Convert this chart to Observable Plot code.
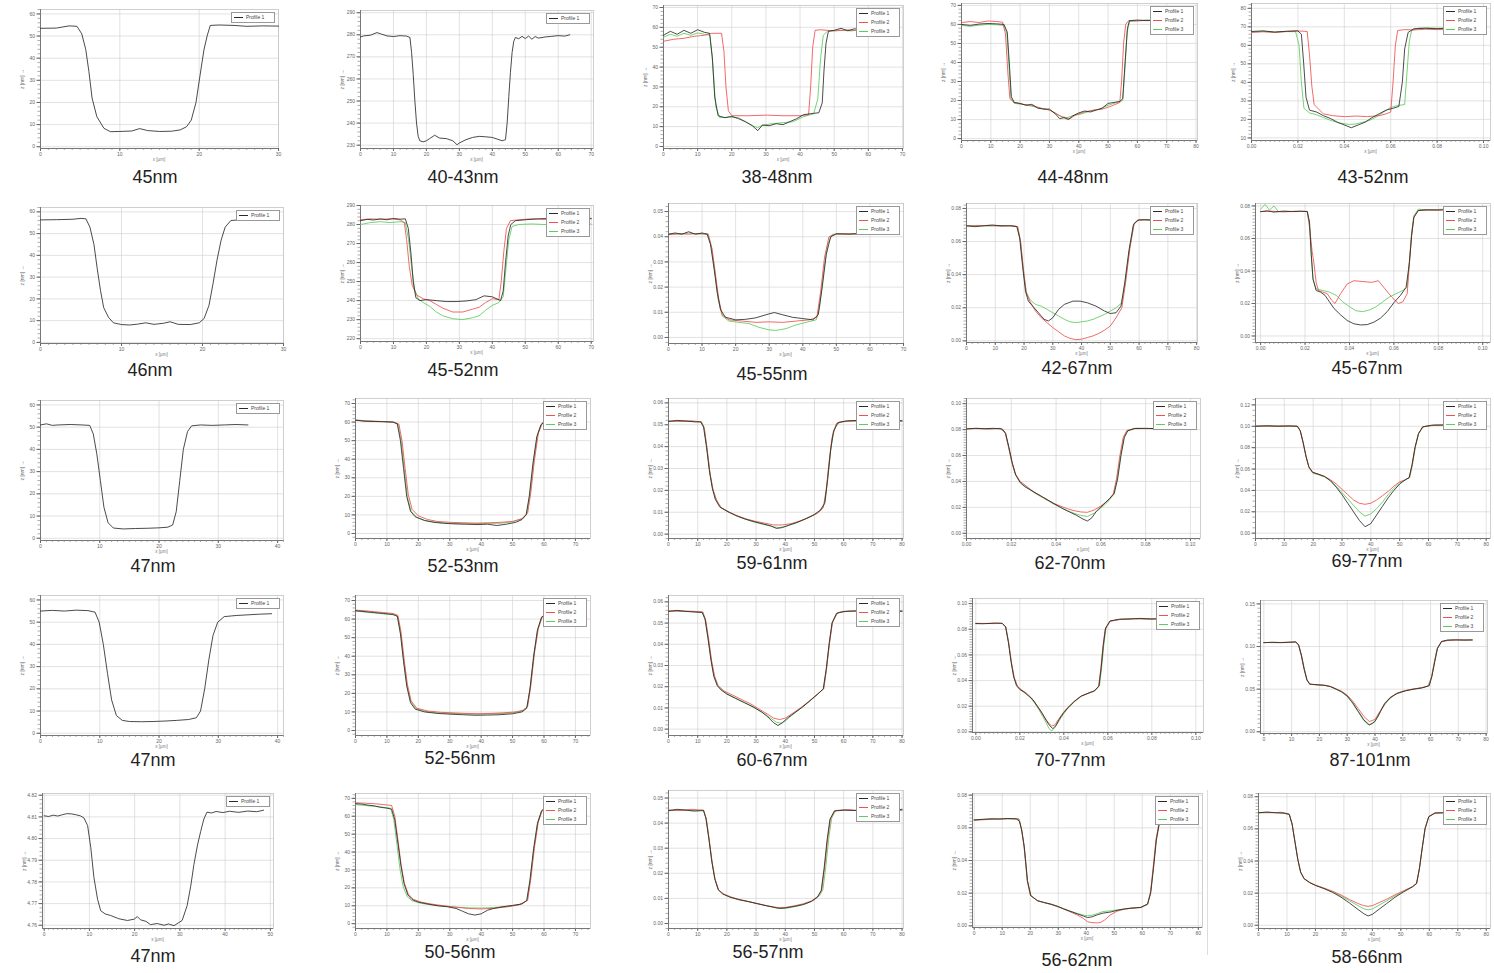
<!DOCTYPE html>
<html><head><meta charset="utf-8">
<script src="https://cdn.jsdelivr.net/npm/d3@7"></script>
<script src="https://cdn.jsdelivr.net/npm/@observablehq/plot@0.6"></script>
<style>
body{margin:0;background:#fff;width:1494px;height:973px;position:relative;overflow:hidden;font-family:"Liberation Sans",Arial,sans-serif}
.panel{position:absolute}
.cap{position:absolute;font-size:18px;line-height:18px;color:#222;transform:translate(-50%,-50%);white-space:nowrap}
.leg{position:absolute;background:#fff;border:1px solid #999;font-size:5px;line-height:9px;color:#444;padding:0 3px 0 2px;box-sizing:border-box}
.leg div{display:flex;align-items:center;height:9px}
.leg span.sw{display:inline-block;width:9px;height:0;border-top:1px solid #333;margin-right:3px}
.art{position:absolute;background:#ddd}
</style></head><body><div id="root"></div>
<script>
// ---------- captions ----------
const captions = ["45nm","40-43nm","38-48nm","44-48nm","43-52nm",
 "46nm","45-52nm","45-55nm","42-67nm","45-67nm",
 "47nm","52-53nm","59-61nm","62-70nm","69-77nm",
 "47nm","52-56nm","60-67nm","70-77nm","87-101nm",
 "47nm","50-56nm","56-57nm","56-62nm","58-66nm"];
const profileNames = ["Profile 1","Profile 2","Profile 3"];

// ---------- tick labels ----------
const xt30 = [0,10,20,30];
const xt40 = [0,10,20,30,40];
const xt50 = [0,10,20,30,40,50];
const xt70 = [0,10,20,30,40,50,60,70];
const xt80 = [0,10,20,30,40,50,60,70,80];
const xtFrac = [0,0.02,0.04,0.06,0.08,0.10];
const yt60 = [0,10,20,30,40,50,60];
const yt70 = [0,10,20,30,40,50,60,70];
const ytP2 = [230,240,250,260,270,280,290];
const ytP5 = [10,20,30,40,50,60,70,80];
const ytP7 = [220,230,240,250,260,270,280,290];
const yt005 = [0,0.01,0.02,0.03,0.04,0.05];
const yt006 = [0,0.01,0.02,0.03,0.04,0.05,0.06];
const yt008 = [0,0.02,0.04,0.06,0.08];
const yt010 = [0,0.02,0.04,0.06,0.08,0.10];
const yt012 = [0,0.02,0.04,0.06,0.08,0.10,0.12];
const yt015 = [0,0.05,0.10,0.15];
const ytP21 = [4.76,4.77,4.78,4.79,4.80,4.81,4.82];

// ---------- profile data [x, z] ----------
const s01a = [[0,53.5],[2,53.6],[3.6,54.6],[4.6,54.4],[5.2,51],[5.7,44],[6.1,34],[6.5,22],[7.1,13.6],[8,8.3],[8.8,6.8],[10,6.9],[11.5,7.1],[12.5,8.2],[13.5,7.3],[15,6.9],[16.5,7],[17.6,7.6],[18.4,9],[19,12],[19.6,20],[20.1,32],[20.6,43.7],[21,50],[21.4,54.8],[22.5,55],[24.4,54.8],[26,54.4],[28,54.6],[30,54.5]];
const s02a = [[0,279],[1,279.5],[3,279.8],[5,281],[6,280.5],[8,279.5],[10,279.2],[12,279.6],[14,279.4],[15,278.8],[15.5,272],[16,262],[16.5,250],[17,240],[17.5,234],[18,232],[19,231.5],[20,232],[21,233],[22.5,234.5],[24,233.2],[26,233],[28,232],[29.3,230.2],[30,231],[32,232.5],[34,233.5],[36,234],[38,233.8],[40,233.5],[42,232.5],[43,232],[44,232.5],[44.5,240],[45,252],[45.5,263],[46,272],[46.5,277],[47,278.8],[48,278.2],[49,279.3],[50,278.3],[51,279.4],[52,278],[53,279.2],[54,278.5],[56,279],[58,279.3],[60,279.6],[62,279.4],[63.5,280]];
const s03a = [[0,56],[2,58],[4,56.5],[6,58.5],[8,57],[10,58.8],[12,57.5],[13.5,57],[14.3,45],[15,25],[16,15.5],[18,14.5],[20,15.2],[22,14],[24,12.5],[26,10.5],[27.6,8],[29,10.8],[31,10.5],[33,11.5],[35,11],[37,12.5],[39,14],[41,16],[43,16.5],[45.5,17],[46.5,22],[47,38],[47.6,52],[48.3,58],[50,58.5],[52,59.5],[54,58.3],[56,59.3],[58,58.5],[60,59]];
const s03b = [[0,53],[3,54],[6,54.5],[9,55.5],[12,56],[14,57],[17,57],[17.7,48],[18.3,30],[19,18],[20,15.5],[25,15.5],[30,15.8],[35,15.5],[40,15.5],[42.5,16],[43.1,30],[43.7,50],[44.4,58.5],[46,58.8],[50,58.2],[54,58.7],[58,58.3],[62,58.8]];
const s03c = [[0,55],[2,56.5],[4,55.5],[6,57],[8,56],[10,57.2],[12,56.5],[13.6,56],[14.4,42],[15.3,20],[16.5,14.5],[19,14.8],[22,14.5],[24,12.5],[26,10.5],[27.6,9.5],[29,10.8],[32,11.5],[35,12],[38,12.5],[41,15],[44,16.5],[45.2,24],[46,44],[46.8,56],[48,58],[51,58.6],[55,58.2],[58,58.8],[61,58.5]];
const s04a = [[0,60],[3,59.5],[6,60.2],[9,60.5],[12,60.3],[14.5,60],[15.6,56],[16.3,40],[17,22],[18,19],[20,18.5],[22,17.5],[24,18],[26,16],[28,15.5],[30,15.5],[32,13],[33.5,10.5],[35,11],[36.5,10],[38,12],[40,13.5],[42,14.5],[44,14],[46,15],[48,16],[50,18.5],[52,19],[54,19.5],[55,21],[55.8,40],[56.6,58],[57.3,62],[60,62.3],[63,62],[66,62.2]];
const s04b = [[0,61],[3,61.5],[6,61],[9,61.8],[12,61.5],[14,61.2],[15,55],[15.8,35],[16.5,21],[18,19],[21,18],[24,17.5],[27,16],[30,15],[33,12.5],[35,11],[37,10.5],[39,12.5],[42,14],[45,15],[48,15.5],[51,17],[54,19],[54.6,30],[55.3,50],[56,60],[57,62],[60,61.8],[63,62.2],[66,62]];
const s04c = [[0,59.5],[3,59],[6,59.6],[9,60],[12,59.8],[14.5,59.5],[15.5,55],[16.2,38],[16.9,21],[18,18.5],[21,18],[24,17],[27,16],[30,15],[32,13.5],[34,11.5],[36,11],[38,12],[41,13],[44,14.5],[47,15.5],[50,17.5],[53,19],[55,20],[55.8,38],[56.5,56],[57.3,61.5],[60,62],[63,62.3],[66,62]];
const s05a = [[0,67.5],[0.005,67.8],[0.01,67.2],[0.015,67.6],[0.02,67.8],[0.0215,66],[0.0225,50],[0.0235,32],[0.025,25],[0.028,24],[0.031,22],[0.034,20.5],[0.037,18.5],[0.04,17],[0.043,15.5],[0.046,17],[0.049,18.5],[0.052,21],[0.055,23],[0.058,25],[0.061,26],[0.0635,27],[0.065,40],[0.066,58],[0.0675,67],[0.07,69],[0.075,69.2],[0.08,69],[0.085,69.3],[0.1,69.2]];
const s05b = [[0,67],[0.005,67.3],[0.01,67],[0.015,67.5],[0.02,67.8],[0.024,67.5],[0.025,55],[0.026,38],[0.027,28],[0.029,25.5],[0.031,23],[0.035,22],[0.04,21.5],[0.045,21.8],[0.05,21.5],[0.055,22],[0.058,23],[0.06,24],[0.061,40],[0.062,60],[0.063,68],[0.066,68.5],[0.07,68.3],[0.075,68.7],[0.08,68.5],[0.1,68.6]];
const s05c = [[0,67.2],[0.005,67.6],[0.01,67],[0.015,67.4],[0.019,67.4],[0.0205,60],[0.0215,40],[0.0226,26],[0.025,23.5],[0.028,22.5],[0.031,21],[0.034,19.5],[0.038,18],[0.042,17.3],[0.045,17.5],[0.048,18.5],[0.051,19.5],[0.054,21.5],[0.057,24],[0.06,26.5],[0.063,27.5],[0.066,28],[0.067,45],[0.068,62],[0.069,68],[0.072,69.3],[0.076,69.5],[0.08,69.2],[0.085,69.4],[0.1,69.3]];
const s06a = [[0,56.3],[2,56.4],[4,56.6],[5,57],[5.6,56.8],[6.1,53],[6.6,45],[7,34],[7.4,24],[7.8,16],[8.4,11.5],[9,9],[10,8.2],[11,8],[12,8.4],[13,9],[14,8.3],[15.2,8.8],[16,9.5],[17,8.3],[18.5,8.2],[19.6,9],[20.2,11],[20.8,17],[21.3,27],[21.8,38],[22.3,47],[22.8,53],[23.5,56],[25,56.5],[27,56.4],[29,56.5]];
const s07a = [[0,282],[2,282.7],[4,282.4],[6,283],[8,282.5],[10,283.2],[12,282.8],[13.6,283],[14.5,278],[15.3,265],[16,250],[16.8,241.5],[18,240],[20,240.5],[23,240],[26,239.5],[29,239.5],[32,239.8],[35,240.5],[37.5,242.5],[40,242],[42.5,240],[43.3,245],[44,260],[44.8,274],[45.6,280],[47,282],[50,282.5],[54,283],[58,283.2],[62,283],[66,283.4],[70,283.2]];
const s07b = [[0,282.5],[3,283],[6,282.7],[9,283],[12,282.5],[13.3,281],[14,272],[14.8,258],[15.7,248],[17,243],[19,241],[21,240],[23,238],[25,236],[28,234],[31,234],[34,235.5],[36,236.5],[38,239],[40,241],[42,240.5],[42.7,250],[43.5,266],[44.3,278],[45.5,282],[48,282.5],[52,283],[56,282.7],[60,283.2],[66,283],[70,283]];
const s07c = [[0,280],[3,281],[6,281.5],[9,281],[12,281.5],[13.6,281],[14.6,272],[15.5,258],[16.4,246],[17.5,241],[19,239],[21,237],[23,234],[25,232],[28,230.5],[31,230],[34,231],[36,232],[38,235],[40,237.5],[42,239],[43.3,242],[44.2,258],[45,272],[46,279],[48,280],[52,280.3],[56,280],[60,280.2],[66,280],[70,280.2]];
const s08a = [[0,0.041],[2,0.0415],[4,0.041],[6,0.042],[8,0.041],[10,0.0415],[11.5,0.041],[12.5,0.037],[13.5,0.028],[14.5,0.018],[15.5,0.011],[17,0.008],[20,0.007],[23,0.0072],[26,0.0078],[29,0.009],[31.5,0.0099],[34,0.009],[37,0.008],[40,0.0075],[43,0.007],[44.6,0.009],[45.8,0.02],[47,0.033],[48.3,0.04],[50,0.0412],[54,0.041],[58,0.0415],[62,0.041],[66,0.0412]];
const s08b = [[0,0.0408],[3,0.0412],[6,0.041],[9,0.0413],[11.8,0.041],[13,0.035],[14,0.025],[15,0.015],[16,0.009],[18,0.007],[22,0.0065],[26,0.006],[30,0.0062],[34,0.006],[38,0.0065],[42,0.007],[44.2,0.008],[45.3,0.018],[46.5,0.032],[47.8,0.04],[50,0.041],[54,0.0412],[58,0.041],[62,0.0412],[66,0.041]];
const s08c = [[0,0.0412],[3,0.041],[6,0.0415],[9,0.041],[11.8,0.0412],[12.8,0.036],[13.8,0.026],[14.8,0.015],[16,0.0085],[18,0.0065],[21,0.006],[24,0.0055],[27,0.004],[30,0.003],[32,0.0028],[35,0.0035],[38,0.005],[41,0.006],[44,0.007],[45,0.012],[46.2,0.026],[47.4,0.037],[48.8,0.041],[52,0.0412],[56,0.041],[60,0.0412],[66,0.041]];
const s09a = [[0,0.0695],[3,0.069],[6,0.0695],[9,0.07],[12,0.0695],[15,0.0695],[17.5,0.069],[18.5,0.062],[19.5,0.045],[20.5,0.03],[21.5,0.024],[23,0.021],[25,0.017],[27,0.013],[28.5,0.012],[30,0.014],[32,0.019],[34,0.022],[37,0.024],[39.5,0.024],[42,0.023],[45,0.021],[48,0.018],[50,0.0165],[52,0.017],[53.7,0.021],[55,0.035],[56.5,0.055],[58,0.07],[59.5,0.073],[62,0.0732],[64,0.073]];
const s09b = [[0,0.0695],[4,0.0695],[8,0.0698],[12,0.0693],[16,0.0697],[17.8,0.069],[18.8,0.06],[19.8,0.043],[20.8,0.029],[22,0.024],[24,0.018],[26,0.014],[28,0.011],[30,0.008],[32,0.0055],[34,0.003],[36,0.0015],[38,0.0007],[40,0.001],[42,0.002],[44,0.003],[46,0.0045],[48,0.0065],[50,0.009],[52,0.014],[54,0.02],[55.3,0.035],[56.8,0.056],[58.3,0.071],[60,0.073],[62,0.0732],[64,0.073]];
const s09c = [[0,0.0695],[4,0.0698],[8,0.0693],[12,0.0697],[16,0.0695],[17.7,0.069],[18.7,0.061],[19.7,0.044],[20.7,0.03],[22,0.025],[24,0.022],[26,0.021],[28,0.019],[30,0.017],[32,0.015],[34,0.013],[36,0.0115],[38,0.011],[40,0.0115],[42,0.012],[44,0.013],[46,0.0145],[48,0.016],[50,0.018],[52,0.02],[54,0.023],[55.2,0.036],[56.7,0.056],[58.2,0.071],[60,0.0732],[62,0.073],[64,0.0732]];
const s10a = [[0,0.0765],[0.003,0.077],[0.006,0.0762],[0.01,0.0768],[0.014,0.0765],[0.018,0.0768],[0.021,0.0765],[0.022,0.07],[0.0228,0.05],[0.0236,0.035],[0.025,0.028],[0.027,0.027],[0.029,0.025],[0.031,0.021],[0.033,0.017],[0.036,0.013],[0.039,0.0095],[0.042,0.0075],[0.045,0.0068],[0.048,0.007],[0.051,0.0085],[0.054,0.011],[0.057,0.015],[0.06,0.0205],[0.063,0.025],[0.0655,0.03],[0.067,0.045],[0.068,0.062],[0.069,0.073],[0.071,0.0772],[0.075,0.0776],[0.08,0.0774],[0.085,0.0778],[0.09,0.0776],[0.1,0.0777]];
const s10b = [[0,0.0765],[0.005,0.0768],[0.01,0.0763],[0.015,0.0767],[0.021,0.0766],[0.0222,0.065],[0.0232,0.052],[0.024,0.045],[0.025,0.033],[0.026,0.028],[0.028,0.027],[0.03,0.026],[0.032,0.022],[0.0335,0.02],[0.036,0.026],[0.039,0.032],[0.042,0.034],[0.046,0.0335],[0.05,0.033],[0.053,0.034],[0.056,0.029],[0.059,0.024],[0.062,0.02],[0.064,0.021],[0.066,0.026],[0.067,0.045],[0.068,0.062],[0.069,0.073],[0.071,0.0772],[0.076,0.0775],[0.082,0.0777],[0.088,0.0775],[0.1,0.0777]];
const s10c = [[0,0.078],[0.002,0.081],[0.004,0.0775],[0.006,0.08],[0.008,0.0765],[0.012,0.0768],[0.016,0.0765],[0.021,0.0767],[0.022,0.07],[0.0228,0.05],[0.0236,0.035],[0.025,0.029],[0.028,0.028],[0.031,0.027],[0.034,0.025],[0.037,0.021],[0.04,0.018],[0.043,0.0155],[0.046,0.015],[0.049,0.016],[0.052,0.018],[0.055,0.021],[0.058,0.024],[0.061,0.026],[0.064,0.028],[0.066,0.03],[0.067,0.047],[0.068,0.064],[0.069,0.074],[0.071,0.078],[0.076,0.0775],[0.082,0.078],[0.088,0.0777],[0.1,0.0778]];
const s11a = [[0,51],[1,51.5],[2,50.8],[3,51],[5,51.2],[7,51],[8.3,50.8],[8.9,47],[9.5,38],[10.1,26],[10.7,14],[11.4,7],[12.3,4.6],[14,4.2],[16,4.4],[18,4.5],[20,4.7],[21.5,5],[22.3,6],[22.9,12],[23.5,26],[24.1,40],[24.8,48],[25.5,50.6],[27,51],[29,50.8],[31,51],[33,51.2],[35,51]];
const s12a = [[0,61],[3,60.5],[6,60.3],[9,60.2],[12,60],[13.3,59],[14.3,50],[15.3,35],[16.3,20],[17.5,12],[19,9],[22,7],[25,6],[28,5.5],[31,5.2],[35,5],[39,4.8],[42,5],[45,4.3],[48,5],[51,6],[53,7.5],[54.3,10],[55.3,20],[56.5,38],[57.7,52],[59,58.5],[60.5,60.8],[63,61.5],[66,61.8],[69,62],[72,61.8]];
const s12b = [[0,61],[3,60.5],[6,60.5],[9,60.2],[12,60],[13.8,59],[14.8,50],[15.8,35],[16.8,21],[18,13],[20,9.5],[23,7.5],[26,6.5],[30,6],[34,5.8],[38,5.6],[42,5.7],[46,6],[50,6.5],[53,8],[54.8,11],[55.8,22],[57,40],[58.2,54],[59.5,59.5],[61,61],[64,61.5],[68,61.8],[72,61.7]];
const s12c = [[0,61.2],[3,60.7],[6,60.4],[9,60.3],[12,60],[13.5,59],[14.5,50],[15.5,35],[16.5,20],[17.7,12],[19.5,8.7],[22,7],[26,6],[30,5.5],[34,5.2],[38,5.3],[42,5.5],[46,5.5],[50,6.3],[53,7.8],[54.5,10.5],[55.5,21],[56.7,39],[57.9,53],[59.2,59],[60.8,61],[64,61.6],[68,61.8],[72,61.9]];
const s13a = [[0,0.0515],[3,0.052],[6,0.0517],[9,0.0513],[11,0.0513],[12,0.049],[13,0.04],[14,0.029],[15,0.021],[16,0.016],[17.5,0.0125],[20,0.0105],[23,0.0085],[26,0.007],[29,0.0058],[32,0.0048],[35,0.0038],[37,0.0026],[39,0.003],[41,0.004],[44,0.0053],[47,0.007],[50,0.009],[52,0.011],[53.5,0.014],[54.5,0.025],[55.5,0.038],[56.5,0.047],[58,0.051],[61,0.0518],[65,0.052],[70,0.0517],[75,0.052],[80,0.0518]];
const s13b = [[0,0.0517],[4,0.0515],[8,0.0518],[11.3,0.0513],[12.3,0.048],[13.3,0.038],[14.3,0.027],[15.3,0.02],[16.5,0.0155],[18,0.012],[21,0.0098],[24,0.0082],[27,0.0068],[30,0.0058],[33,0.005],[36,0.0042],[39,0.0042],[42,0.0048],[45,0.006],[48,0.0075],[51,0.0095],[53,0.012],[54,0.02],[55,0.033],[56,0.044],[57.5,0.0505],[60,0.0515],[65,0.0518],[70,0.0515],[75,0.0518],[80,0.0516]];
const s13c = [[0,0.0516],[4,0.0518],[8,0.0515],[11.2,0.0514],[12.2,0.049],[13.2,0.039],[14.2,0.028],[15.2,0.0205],[16.3,0.0158],[18,0.0122],[21,0.01],[24,0.008],[27,0.0065],[30,0.0053],[33,0.0043],[36,0.0033],[38,0.003],[40,0.0035],[43,0.0048],[46,0.0065],[49,0.0083],[52,0.0105],[53.7,0.015],[54.7,0.027],[55.7,0.04],[56.8,0.048],[58.5,0.0512],[62,0.0516],[67,0.0518],[72,0.0516],[80,0.0518]];
const s14a = [[0,0.0805],[0.004,0.081],[0.008,0.0807],[0.012,0.081],[0.016,0.0805],[0.0175,0.077],[0.019,0.066],[0.0205,0.054],[0.022,0.045],[0.024,0.039],[0.026,0.036],[0.028,0.034],[0.031,0.031],[0.034,0.028],[0.037,0.025],[0.04,0.022],[0.043,0.019],[0.046,0.0165],[0.049,0.014],[0.052,0.011],[0.054,0.0095],[0.056,0.012],[0.058,0.017],[0.061,0.022],[0.064,0.027],[0.066,0.031],[0.0675,0.042],[0.069,0.06],[0.0705,0.074],[0.072,0.079],[0.075,0.0808],[0.08,0.081],[0.085,0.0807],[0.09,0.081],[0.1,0.0808]];
const s14b = [[0,0.0807],[0.005,0.0808],[0.01,0.0805],[0.015,0.081],[0.0172,0.078],[0.0187,0.067],[0.0202,0.055],[0.0217,0.046],[0.024,0.04],[0.027,0.036],[0.03,0.032],[0.033,0.029],[0.036,0.026],[0.039,0.023],[0.042,0.021],[0.045,0.019],[0.048,0.0175],[0.051,0.0165],[0.054,0.0162],[0.057,0.018],[0.06,0.021],[0.063,0.025],[0.0655,0.03],[0.067,0.042],[0.0685,0.06],[0.07,0.074],[0.0715,0.079],[0.075,0.081],[0.08,0.0808],[0.085,0.081],[0.1,0.0807]];
const s14c = [[0,0.0806],[0.005,0.081],[0.01,0.0806],[0.015,0.0808],[0.0174,0.0775],[0.0189,0.066],[0.0204,0.054],[0.022,0.045],[0.024,0.0395],[0.027,0.0355],[0.03,0.0315],[0.033,0.0285],[0.036,0.0255],[0.039,0.0225],[0.042,0.02],[0.045,0.0175],[0.048,0.0155],[0.051,0.0138],[0.054,0.013],[0.057,0.0155],[0.06,0.0195],[0.063,0.024],[0.0658,0.03],[0.0672,0.042],[0.0688,0.06],[0.0703,0.074],[0.0718,0.0795],[0.076,0.081],[0.082,0.0808],[0.09,0.081],[0.1,0.0808]];
const s15a = [[0,0.1],[4,0.1005],[8,0.1],[12,0.1003],[14.5,0.1],[15.5,0.096],[16.5,0.085],[17.5,0.072],[18.5,0.062],[19.8,0.057],[22,0.055],[24,0.053],[26,0.049],[28,0.043],[30,0.036],[32,0.028],[34,0.02],[36,0.012],[38,0.006],[40,0.009],[42,0.017],[44,0.025],[46,0.033],[48,0.04],[50,0.046],[52,0.05],[53.3,0.052],[54.3,0.064],[55.3,0.08],[56.5,0.093],[58,0.0995],[61,0.101],[65,0.1012],[70,0.101],[75,0.1012],[78,0.101]];
const s15b = [[0,0.1003],[5,0.1],[10,0.1005],[14.5,0.1],[15.5,0.096],[16.5,0.085],[17.5,0.072],[18.5,0.062],[19.8,0.057],[22,0.055],[24,0.053],[26,0.05],[28,0.046],[30,0.041],[32,0.036],[34,0.031],[36,0.028],[38,0.027],[40,0.028],[42,0.031],[44,0.035],[46,0.039],[48,0.044],[50,0.048],[52,0.05],[53.3,0.052],[54.3,0.064],[55.3,0.08],[56.5,0.093],[58,0.0995],[62,0.101],[68,0.1012],[74,0.101],[78,0.1012]];
const s15c = [[0,0.1],[5,0.1004],[10,0.1],[14.5,0.1002],[15.6,0.095],[16.6,0.084],[17.6,0.071],[18.6,0.061],[19.9,0.056],[22,0.0545],[24,0.0525],[26,0.049],[28,0.044],[30,0.038],[32,0.032],[34,0.026],[36,0.02],[38,0.016],[40,0.018],[42,0.023],[44,0.029],[46,0.036],[48,0.042],[50,0.047],[52,0.05],[53.5,0.052],[54.5,0.065],[55.5,0.081],[56.7,0.094],[58.2,0.0995],[62,0.1012],[68,0.101],[74,0.1012],[78,0.101]];
const s16a = [[0,55],[2,55.3],[4,55],[6,55.4],[8,55.2],[9.2,54.5],[9.9,50],[10.6,40],[11.3,27],[12,15],[12.8,8],[13.8,5.8],[15,5.3],[17,5.2],[19,5.3],[21,5.5],[23,5.8],[25,6.2],[26.3,7],[27,10],[27.7,20],[28.4,33],[29.1,44],[29.9,50],[31,52.5],[33,53],[35,53.3],[37,53.6],[39,53.8]];
const s17a = [[0,64.5],[3,64],[6,63.5],[9,63],[12,62.5],[13.3,61.5],[14.3,52],[15.3,37],[16.3,24],[17.5,15],[19,11.5],[22,10],[26,9.2],[30,8.8],[34,8.5],[38,8.2],[42,8.3],[46,8.5],[50,9],[53,10],[54.5,12],[55.5,22],[56.7,40],[57.9,54],[59.2,61],[61,63],[64,63.5],[68,63.8],[72,64]];
const s17b = [[0,64.8],[3,64.5],[6,64],[9,63.5],[12,63],[13.5,62],[14.5,53],[15.5,38],[16.5,25],[17.7,16],[19.5,12],[23,10.5],[27,9.8],[31,9.5],[35,9.2],[39,9],[43,9.2],[47,9.5],[51,10],[53.5,11],[54.8,13],[55.8,24],[57,42],[58.2,55],[59.5,61.5],[61.5,63.2],[65,63.7],[69,64],[72,64.2]];
const s17c = [[0,64.3],[3,63.8],[6,63.3],[9,62.8],[12,62.3],[13.4,61.5],[14.4,52],[15.4,37],[16.4,24],[17.6,15.5],[19.2,11.8],[22,10.3],[26,9.5],[30,9.2],[34,9],[38,8.8],[42,8.9],[46,9.1],[50,9.5],[53,10.5],[54.6,12.5],[55.6,23],[56.8,41],[58,54.5],[59.3,61],[61.2,63],[65,63.5],[69,63.9],[72,64]];
const s18a = [[0,0.0555],[3,0.056],[6,0.0555],[9,0.0552],[11.5,0.055],[12.5,0.052],[13.5,0.043],[14.5,0.033],[15.5,0.025],[16.7,0.0205],[18,0.0185],[20,0.0165],[23,0.0145],[26,0.0125],[29,0.0105],[32,0.008],[34,0.0058],[36,0.003],[37.5,0.0017],[39,0.003],[41,0.0055],[43,0.0075],[46,0.0105],[49,0.014],[51.5,0.017],[53,0.019],[54,0.028],[55,0.04],[56,0.05],[57.5,0.0545],[60,0.0555],[65,0.0558],[70,0.0555],[75,0.0558],[80,0.0556]];
const s18b = [[0,0.0558],[4,0.0555],[8,0.0556],[11.8,0.0552],[12.8,0.051],[13.8,0.042],[14.8,0.032],[15.8,0.025],[17,0.0205],[19,0.018],[22,0.016],[25,0.014],[28,0.012],[31,0.0095],[34,0.007],[36,0.0052],[38,0.0045],[40,0.0052],[42,0.007],[45,0.0098],[48,0.013],[51,0.0165],[53.2,0.019],[54.2,0.029],[55.2,0.041],[56.2,0.0505],[58,0.055],[62,0.0556],[68,0.0555],[74,0.0558],[80,0.0556]];
const s18c = [[0,0.0556],[4,0.0558],[8,0.0554],[11.6,0.0552],[12.6,0.0515],[13.6,0.0425],[14.6,0.0325],[15.6,0.025],[16.8,0.0205],[18.5,0.018],[21,0.016],[24,0.0138],[27,0.0118],[30,0.0096],[33,0.0072],[35,0.0052],[37,0.0032],[38.5,0.0028],[40,0.0038],[42,0.0062],[45,0.0095],[48,0.0128],[51,0.0163],[53.1,0.019],[54.1,0.0285],[55.1,0.0405],[56.1,0.05],[57.8,0.0548],[61,0.0556],[67,0.0558],[73,0.0555],[80,0.0557]];
const s19a = [[0,0.0845],[0.003,0.0843],[0.006,0.0845],[0.009,0.0848],[0.012,0.0847],[0.0135,0.082],[0.0148,0.07],[0.016,0.055],[0.0172,0.043],[0.0185,0.036],[0.02,0.033],[0.022,0.031],[0.024,0.028],[0.026,0.025],[0.028,0.02],[0.03,0.015],[0.032,0.009],[0.0335,0.005],[0.035,0.0025],[0.0365,0.005],[0.038,0.01],[0.04,0.015],[0.042,0.019],[0.045,0.024],[0.048,0.028],[0.051,0.03],[0.054,0.032],[0.056,0.036],[0.057,0.05],[0.058,0.068],[0.059,0.081],[0.061,0.0865],[0.065,0.0878],[0.07,0.088],[0.075,0.0885],[0.08,0.088],[0.085,0.0883]];
const s19b = [[0,0.0847],[0.004,0.0845],[0.008,0.0848],[0.012,0.0845],[0.0137,0.0815],[0.015,0.069],[0.0162,0.054],[0.0175,0.042],[0.019,0.0355],[0.021,0.0325],[0.023,0.0302],[0.025,0.027],[0.027,0.0225],[0.029,0.0175],[0.031,0.012],[0.033,0.007],[0.0345,0.0045],[0.036,0.0055],[0.0375,0.0095],[0.0395,0.0145],[0.0415,0.0185],[0.0445,0.0235],[0.0475,0.0275],[0.0505,0.0298],[0.0535,0.0318],[0.0558,0.035],[0.0568,0.049],[0.0578,0.067],[0.0588,0.08],[0.061,0.0862],[0.066,0.0878],[0.072,0.0882],[0.078,0.088],[0.085,0.0882]];
const s19c = [[0,0.0843],[0.004,0.0846],[0.008,0.0844],[0.012,0.0846],[0.0136,0.0818],[0.0149,0.0695],[0.0161,0.0545],[0.0174,0.0425],[0.0188,0.0358],[0.0205,0.0325],[0.0225,0.03],[0.0245,0.0275],[0.0265,0.023],[0.0285,0.0178],[0.0305,0.0118],[0.032,0.007],[0.0333,0.0025],[0.0345,0.0007],[0.036,0.0035],[0.0378,0.0085],[0.0398,0.0138],[0.042,0.0185],[0.045,0.0238],[0.048,0.0278],[0.051,0.03],[0.054,0.0318],[0.0562,0.036],[0.0572,0.05],[0.0582,0.068],[0.0592,0.081],[0.0612,0.0864],[0.066,0.0878],[0.072,0.0883],[0.078,0.088],[0.085,0.0883]];
const s20a = [[0,0.1045],[3,0.105],[6,0.1045],[9,0.105],[11.5,0.1055],[12.5,0.102],[13.5,0.09],[14.5,0.074],[15.5,0.061],[16.5,0.056],[18,0.0555],[20,0.055],[22,0.0545],[24,0.053],[26,0.05],[28,0.047],[30,0.042],[32,0.034],[34,0.024],[36,0.014],[38,0.008],[40,0.012],[42,0.024],[43.5,0.033],[45.5,0.04],[48,0.045],[51,0.048],[54,0.05],[57,0.0515],[59.5,0.054],[60.5,0.065],[61.5,0.082],[62.5,0.098],[64,0.106],[66,0.1075],[69,0.1078],[72,0.1075],[75,0.1078]];
const s20b = [[0,0.1048],[4,0.1045],[8,0.105],[11.5,0.1052],[12.5,0.1015],[13.5,0.089],[14.5,0.073],[15.5,0.0605],[16.5,0.0558],[19,0.0552],[22,0.0545],[24,0.0532],[26,0.0505],[28,0.0475],[30,0.043],[32,0.036],[34,0.027],[36,0.018],[38,0.012],[40,0.0145],[42,0.025],[43.5,0.0335],[45.5,0.0405],[48,0.0455],[51,0.0485],[54,0.0503],[57,0.0518],[59.5,0.0542],[60.5,0.066],[61.5,0.083],[62.5,0.098],[64,0.1058],[67,0.1075],[71,0.1078],[75,0.1076]];
const s20c = [[0,0.1046],[4,0.105],[8,0.1046],[11.5,0.1053],[12.6,0.1015],[13.6,0.0895],[14.6,0.0735],[15.6,0.0608],[16.6,0.0557],[19,0.055],[22,0.0543],[24,0.0528],[26,0.0498],[28,0.0465],[30,0.0415],[32,0.033],[34,0.023],[36,0.013],[37.5,0.0085],[39,0.009],[41,0.017],[42.5,0.027],[44.5,0.036],[47,0.0435],[50,0.0475],[53,0.0498],[56,0.0512],[59,0.0535],[60.3,0.064],[61.3,0.081],[62.3,0.097],[63.8,0.1055],[66,0.1075],[70,0.1078],[75,0.1077]];
const s21a = [[0,4.8105],[1,4.8102],[2,4.8108],[3,4.8104],[4,4.811],[5,4.8115],[6,4.8114],[7,4.811],[8,4.8105],[8.8,4.8095],[9.6,4.806],[10.3,4.796],[11,4.782],[11.8,4.772],[12.5,4.7667],[13.5,4.7652],[14.7,4.7645],[16.5,4.763],[18.4,4.7622],[19.9,4.7628],[20.6,4.764],[21.3,4.7625],[22.5,4.7618],[23.5,4.7603],[25,4.7608],[26.5,4.76],[27.5,4.7606],[28.7,4.7598],[29.6,4.761],[30.5,4.7622],[31.6,4.769],[32.4,4.778],[33.1,4.788],[33.9,4.797],[34.6,4.8033],[35.3,4.809],[36,4.8122],[37,4.8118],[38,4.8125],[39.5,4.812],[41,4.8126],[43,4.8121],[45,4.8127],[47,4.8124],[48.5,4.8131]];
const s22a = [[0,67],[2,66.8],[4,66.2],[6,65.8],[8,65],[10,64.5],[11.5,64],[12.5,58],[13.5,45],[14.5,32],[15.5,22],[16.7,16],[18,13.5],[20,12],[23,11],[26,10],[29,9.5],[32,8.5],[34,7],[36,5.5],[38,4.8],[40,5.5],[42,7.5],[44,8.5],[47,9.5],[50,10.2],[53,11],[54.5,13],[55.5,24],[56.7,42],[57.9,56],[59.2,63],[61,65.5],[64,66],[68,66.3],[72,66.5]];
const s22b = [[0,67.5],[3,67.3],[6,67],[9,66.5],[11.5,66],[12.5,60],[13.5,47],[14.5,33],[15.5,23],[16.8,16.5],[18.5,13.5],[21,12],[24,11],[28,10],[32,9.2],[36,8.5],[40,8.2],[44,8.6],[48,9.3],[52,10.5],[54.8,13],[55.8,25],[57,43],[58.2,57],[59.5,63.5],[61.5,65.8],[65,66.3],[69,66.6],[72,66.8]];
const s22c = [[0,66.5],[3,66],[6,65.5],[9,65],[11.2,64.5],[12.2,58],[13.2,44],[14.2,30],[15.2,20.5],[16.5,15],[18,12.8],[21,11.3],[24,10.5],[28,9.8],[32,9.2],[36,8.8],[40,8.7],[44,9],[48,9.6],[52,10.6],[54.6,12.8],[55.6,24],[56.8,42],[58,56],[59.3,63],[61.2,65.6],[65,66],[69,66.4],[72,66.5]];
const s23a = [[0,0.045],[3,0.0455],[6,0.0452],[9,0.0448],[12,0.045],[12.8,0.042],[13.8,0.034],[14.8,0.025],[15.8,0.018],[17,0.0135],[18.5,0.0118],[21,0.0105],[24,0.0095],[27,0.0088],[30,0.008],[33,0.0072],[36,0.0065],[38,0.006],[40,0.0062],[43,0.0068],[46,0.0075],[49,0.0088],[51,0.0105],[52.3,0.013],[53.3,0.022],[54.3,0.033],[55.3,0.0415],[56.8,0.0448],[60,0.0452],[65,0.045],[70,0.0455],[75,0.0452],[80,0.0455]];
const s23b = [[0,0.0452],[4,0.045],[8,0.0455],[12,0.0451],[13,0.0415],[14,0.033],[15,0.024],[16,0.0175],[17.2,0.0133],[19,0.0117],[22,0.0103],[25,0.0094],[28,0.0086],[31,0.0078],[34,0.007],[37,0.0064],[40,0.0064],[43,0.007],[46,0.0078],[49,0.009],[51.2,0.0108],[52.5,0.0135],[53.5,0.0225],[54.5,0.0335],[55.5,0.0418],[57,0.045],[61,0.0453],[66,0.045],[72,0.0454],[80,0.0452]];
const s23c = [[0,0.0449],[4,0.0452],[8,0.0449],[12,0.0452],[12.9,0.0418],[13.9,0.0335],[14.9,0.0245],[15.9,0.0178],[17.1,0.0134],[18.8,0.0117],[21.5,0.0104],[24.5,0.0094],[27.5,0.0087],[30.5,0.0079],[33.5,0.0071],[36.5,0.0063],[39,0.0059],[41.5,0.0063],[44.5,0.007],[47.5,0.008],[50,0.0095],[51.8,0.0112],[52.9,0.0135],[53.9,0.0228],[54.9,0.034],[55.9,0.042],[57.3,0.045],[61,0.0452],[66,0.0449],[72,0.0453],[80,0.0451]];
const s24a = [[0,0.0648],[3,0.0652],[6,0.0655],[9,0.0653],[12,0.0657],[15,0.0655],[16.2,0.064],[17,0.058],[17.9,0.0482],[18.5,0.037],[19,0.0277],[20.2,0.0185],[22.6,0.0154],[25,0.0143],[27.4,0.0133],[30,0.0118],[32,0.0103],[35,0.0085],[37,0.0072],[39,0.006],[40.5,0.0051],[42,0.0055],[44,0.0068],[46,0.0078],[48.8,0.0085],[51,0.0095],[53.6,0.0103],[56,0.0108],[59.5,0.0113],[61.9,0.0133],[63,0.02],[64,0.035],[65,0.052],[66,0.062],[67,0.0645],[68,0.065]];
const s24b = [[0,0.0646],[4,0.065],[8,0.0654],[12,0.0656],[15.8,0.0654],[16.8,0.06],[17.7,0.05],[18.4,0.038],[18.9,0.028],[20,0.0188],[22.5,0.0155],[25,0.0142],[28,0.0128],[31,0.011],[34,0.0088],[37,0.0065],[39,0.0045],[40.5,0.0025],[42,0.002],[44,0.0018],[45,0.002],[46.5,0.0035],[48.5,0.0065],[51,0.009],[53.6,0.0102],[56,0.0108],[59.5,0.0112],[61.9,0.0132],[62.9,0.02],[63.9,0.036],[64.9,0.053],[65.9,0.0622],[67,0.0645],[68,0.065]];
const s24c = [[0,0.065],[4,0.0652],[8,0.0656],[12,0.0655],[16,0.0655],[17,0.059],[17.8,0.049],[18.6,0.036],[19.1,0.027],[20.3,0.0183],[22.7,0.0153],[25,0.0142],[28,0.013],[31,0.0112],[34,0.0092],[37,0.0075],[39,0.0066],[40.5,0.0062],[42,0.0065],[44,0.0075],[46,0.0088],[48.8,0.0092],[51,0.0098],[53.6,0.0104],[56,0.0109],[59.5,0.0114],[61.9,0.0135],[63.1,0.022],[64.1,0.038],[65.1,0.054],[66.1,0.0625],[67.2,0.0648],[68.5,0.0655]];
const s25a = [[0,0.07],[3,0.0705],[6,0.07],[9,0.0698],[10.8,0.069],[11.8,0.063],[12.8,0.052],[13.8,0.041],[14.8,0.033],[16,0.029],[18,0.0265],[20,0.0248],[23,0.0228],[26,0.0205],[29,0.0175],[32,0.0138],[35,0.0098],[37,0.0072],[38.5,0.0058],[40,0.0068],[42,0.0095],[45,0.0135],[48,0.0175],[51,0.0208],[54,0.0238],[55.5,0.026],[56.5,0.035],[57.5,0.048],[58.5,0.06],[59.8,0.0675],[62,0.0698],[66,0.07],[70,0.0702],[75,0.0698],[80,0.07]];
const s25b = [[0,0.0702],[4,0.07],[8,0.0703],[10.8,0.0692],[11.8,0.0632],[12.8,0.0522],[13.8,0.0412],[14.8,0.0332],[16,0.0292],[18,0.0267],[20,0.025],[23,0.0232],[26,0.0212],[29,0.0188],[32,0.016],[35,0.0135],[37,0.0122],[38.5,0.0118],[40,0.0122],[42,0.0138],[45,0.0162],[48,0.019],[51,0.0215],[54,0.024],[55.6,0.026],[56.6,0.036],[57.6,0.049],[58.6,0.061],[59.9,0.0678],[62,0.07],[67,0.0702],[72,0.0699],[80,0.0701]];
const s25c = [[0,0.0699],[4,0.0702],[8,0.0699],[10.8,0.069],[11.8,0.063],[12.8,0.052],[13.8,0.041],[14.8,0.033],[16,0.029],[18,0.0266],[20,0.0249],[23,0.023],[26,0.0208],[29,0.0182],[32,0.0152],[35,0.0122],[37,0.0103],[38.5,0.0096],[40,0.0102],[42,0.0122],[45,0.0152],[48,0.0183],[51,0.0212],[54,0.0239],[55.5,0.026],[56.5,0.035],[57.5,0.048],[58.5,0.06],[59.8,0.0676],[62,0.0699],[67,0.0701],[72,0.07],[80,0.0702]];

// ---------- per-panel scales ----------
const xDomains = [[0,30],[0,70.7],[0,70.3],[0,80.5],[0,0.103],
 [0,30],[0,70.7],[0,70],[0,80.3],[-0.0023,0.1035],
 [0,41],[0,74.8],[0,80.5],[0,0.1045],[0,81.5],
 [0,41],[0,74.8],[0,80.5],[-0.0015,0.1035],[-1.2,80.5],
 [-0.37,50.7],[0,74.8],[0,80.5],[-0.6,81.5],[0,81.5]];
const yDomains = [[-0.8,62],[228.5,291],[-1,71],[-1,71],[8.6,82.6],
 [-0.5,62],[218.5,290],[-0.0024,0.0532],[-0.001,0.083],[-0.004,0.0815],
 [-1,62],[-2.7,72.7],[-0.002,0.062],[-0.004,0.104],[-0.005,0.126],
 [-1,62],[-2.7,72.7],[-0.003,0.063],[-0.0005,0.104],[-0.002,0.154],
 [4.7585,4.8208],[-2.7,72.7],[-0.002,0.053],[-0.001,0.081],[-0.002,0.082]];
const xTicks = [xt30,xt70,xt70,xt80,xtFrac, xt30,xt70,xt70,xt80,xtFrac,
 xt40,xt70,xt80,xtFrac,xt80, xt40,xt70,xt80,xtFrac,xt80, xt50,xt70,xt80,xt80,xt80];
const yTicks = [yt60,ytP2,yt70,yt70,ytP5, yt60,ytP7,yt005,yt008,yt008,
 yt60,yt70,yt006,yt010,yt012, yt60,yt70,yt006,yt010,yt015, ytP21,yt70,yt005,yt008,yt008];
const series = [[s01a],[s02a],[s03a,s03b,s03c],[s04a,s04b,s04c],[s05a,s05b,s05c],
 [s06a],[s07a,s07b,s07c],[s08a,s08b,s08c],[s09a,s09b,s09c],[s10a,s10b,s10c],
 [s11a],[s12a,s12b,s12c],[s13a,s13b,s13c],[s14a,s14b,s14c],[s15a,s15b,s15c],
 [s16a],[s17a,s17b,s17c],[s18a,s18b,s18c],[s19a,s19b,s19c],[s20a,s20b,s20c],
 [s21a],[s22a,s22b,s22c],[s23a,s23b,s23c],[s24a,s24b,s24c],[s25a,s25b,s25c]];

// ---------- layout (page pixels) ----------
const frames = [[40,9,278,148],[360,10,593,148],[663,5,903,148],[961,3,1197,140],[1251,3,1490,140],
 [40,207,283,343],[360,205,593,341],[668,203,903,343],[966,203,1197,342],[1255,203,1490,342],
 [40,400,283,540],[355,398,590,538],[668,398,903,538],[966,398,1200,538],[1255,398,1490,538],
 [40,595,283,735],[355,595,590,735],[668,595,903,735],[972,598,1203,732],[1260,600,1487,733],
 [42,793,273,928],[355,793,590,928],[668,790,903,928],[972,793,1202,927],[1258,793,1490,928]];
const capPos = [[155,177],[463,177],[777,177],[1073,177],[1373,177],
 [150,370],[463,370],[772,374],[1077,368],[1367,368],
 [153,566],[463,566],[772,563],[1070,563],[1367,561],
 [153,760],[460,758],[772,760],[1070,760],[1370,760],
 [153,956],[460,952],[768,952],[1077,960],[1367,957]];
const colors = ["#2a2a2a","#ee4f4f","#5ccc5c"];

const root = document.getElementById("root");
const ml = 24, mr = 3, mt = 5, mb = 12;
const fmtFor = ticks => {
  const step = ticks[1]-ticks[0];
  return step < 1 ? d3.format(".2f") : d3.format("d");
};

captions.forEach((cap, i) => {
  const [L,T,R,B] = frames[i];
  const xd = xDomains[i], yd = yDomains[i];
  const xt = xTicks[i], yt = yTicks[i];
  const xMinor = d3.ticks(xd[0], xd[1], 40);
  const yMinor = d3.ticks(yd[0], yd[1], 35);
  const prof = series[i];
  const lineMarks = prof.map((s, k) => ({s, k})).reverse().map(({s,k}) =>
    Plot.line(s, {x: d => d[0], y: d => d[1], stroke: colors[k], strokeWidth: 0.85}));
  const svg = Plot.plot({
    width: R - L + ml + mr, height: B - T + mt + mb,
    marginLeft: ml, marginRight: mr, marginTop: mt, marginBottom: mb,
    style: {fontFamily: "Liberation Sans, Arial, sans-serif", fontSize: "5px", color: "#666", background: "transparent", overflow: "visible"},
    x: {domain: xd, label: null},
    y: {domain: yd, label: null},
    marks: [
      Plot.gridX(xt, {stroke: "#cfcfcf", strokeOpacity: 1, strokeWidth: 0.6}),
      Plot.gridY(yt, {stroke: "#cfcfcf", strokeOpacity: 1, strokeWidth: 0.6}),
      Plot.frame({stroke: "#c4c4c4", strokeWidth: 0.8}),
      Plot.axisX(xMinor, {tickSize: 2, tickFormat: () => "", stroke: "#777", strokeWidth: 0.6}),
      Plot.axisY(yMinor, {tickSize: 2.5, tickFormat: () => "", stroke: "#777", strokeWidth: 0.6}),
      Plot.axisX(xt, {tickSize: 3, tickPadding: 1, tickFormat: fmtFor(xt), fontSize: 5, stroke: "#666", label: null}),
      Plot.axisY(yt, {tickSize: 3.5, tickPadding: 2, tickFormat: fmtFor(yt), fontSize: 5, stroke: "#666", label: "z [nm]", labelAnchor: "center", labelOffset: 20}),
      Plot.ruleX([xd[0]], {stroke: "#777", strokeWidth: 1}),
      Plot.ruleY([yd[0]], {stroke: "#777", strokeWidth: 1}),
      ...lineMarks
    ]
  });
  svg.classList.add("panel");
  svg.style.left = (L - ml) + "px";
  svg.style.top = (T - mt) + "px";
  root.appendChild(svg);

  // legend box (upper right, inside the frame)
  const leg = document.createElement("div");
  leg.className = "leg";
  leg.style.width = "44px";
  leg.style.left = (R - 47) + "px";
  leg.style.top = (T + 3) + "px";
  prof.forEach((s, k) => {
    const row = document.createElement("div");
    const sw = document.createElement("span");
    sw.className = "sw";
    sw.style.borderTopColor = colors[k];
    row.appendChild(sw);
    row.appendChild(document.createTextNode(profileNames[k]));
    leg.appendChild(row);
  });
  root.appendChild(leg);

  // x axis label
  const xl = document.createElement("div");
  xl.textContent = "x [µm]";
  xl.style.cssText = `position:absolute;font-size:4.5px;line-height:5px;color:#777;left:${(L+R)/2}px;top:${B+9}px;transform:translateX(-50%)`;
  root.appendChild(xl);

  // caption
  const c = document.createElement("div");
  c.className = "cap";
  c.textContent = cap;
  c.style.left = capPos[i][0] + "px";
  c.style.top = capPos[i][1] + "px";
  root.appendChild(c);
});

const art = document.createElement("div");
art.className = "art";
art.style.cssText += "left:1207px;top:790px;width:1px;height:165px;";
root.appendChild(art);
</script></body></html>
